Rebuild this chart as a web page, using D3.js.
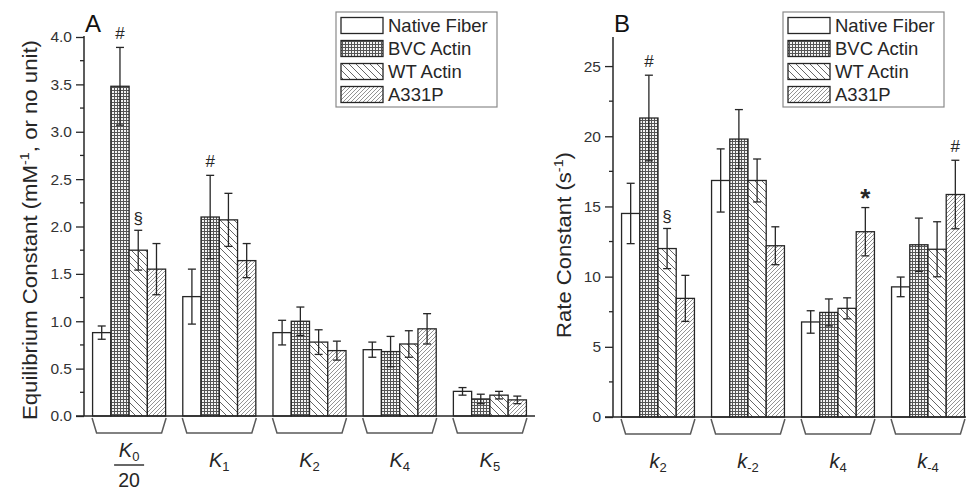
<!DOCTYPE html>
<html>
<head>
<meta charset="utf-8">
<script src="https://cdn.jsdelivr.net/npm/d3@7"></script>
<style>
body{margin:0;background:#fff;}
svg{display:block;font-family:"Liberation Sans",Arial,sans-serif;}
</style>
</head>
<body>
<script>
(function(){
//series and categories
var seriesNames = ["Native Fiber","BVC Actin","WT Actin","A331P"];
var patternIds = ["pNative","pBVC","pWT","pA331P"];

//panel A: equilibrium constants
var catA = ["K_0/20","K_1","K_2","K_4","K_5"];
var nativeA = [0.88, 1.26, 0.88, 0.70, 0.26];
var bvcA    = [3.48, 2.10, 1.00, 0.68, 0.18];
var wtA     = [1.75, 2.07, 0.78, 0.76, 0.22];
var a331pA  = [1.55, 1.64, 0.69, 0.92, 0.17];
var nativeErrA = [0.07, 0.29, 0.13, 0.08, 0.04];
var bvcErrA    = [0.41, 0.44, 0.15, 0.16, 0.05];
var wtErrA     = [0.21, 0.28, 0.13, 0.14, 0.04];
var a331pErrA  = [0.27, 0.18, 0.10, 0.16, 0.04];
var ticksA = [0, 0.5, 1.0, 1.5, 2.0, 2.5, 3.0, 3.5, 4.0];
var marksA = [[0,1,"#"],[0,2,"§"],[1,1,"#"]]; //group, series, symbol

//panel B: rate constants
var catB = ["k_2","k_-2","k_4","k_-4"];
var nativeB = [14.5, 16.85, 6.77, 9.27];
var bvcB    = [21.3, 19.8, 7.45, 12.27];
var wtB     = [12.0, 16.85, 7.74, 11.95];
var a331pB  = [8.45, 12.2, 13.2, 15.85];
var nativeErrB = [2.15, 2.25, 0.80, 0.70];
var bvcErrB    = [3.05, 2.10, 0.96, 1.90];
var wtErrB     = [1.43, 1.53, 0.75, 1.96];
var a331pErrB  = [1.64, 1.35, 1.72, 2.44];
var ticksB = [0, 5, 10, 15, 20, 25];
var marksB = [[0,1,"#"],[0,2,"§"],[2,3,"*"],[3,3,"#"]];

var width = 966, height = 494;
var ink = "#262626";

var svg = d3.select("body").append("svg")
    .attr("width", width)
    .attr("height", height);

//fill patterns
var defs = svg.append("defs");
defs.append("pattern").attr("id","pNative")
    .attr("patternUnits","userSpaceOnUse").attr("width",4).attr("height",4)
    .append("rect").attr("width",4).attr("height",4).attr("fill","#fff");

var pb = defs.append("pattern").attr("id","pBVC")
    .attr("patternUnits","userSpaceOnUse").attr("width",3).attr("height",3);
pb.append("rect").attr("width",3).attr("height",3).attr("fill","#f4f4f4");
pb.append("rect").attr("width",3).attr("height",1).attr("fill","#555");
pb.append("rect").attr("width",1).attr("height",3).attr("fill","#555");

var pw = defs.append("pattern").attr("id","pWT")
    .attr("patternUnits","userSpaceOnUse").attr("width",7).attr("height",7);
pw.append("rect").attr("width",7).attr("height",7).attr("fill","#fff");
pw.append("path").attr("d","M-1,-1L8,8M-1,6L1,8M6,-1L8,1")
    .attr("stroke","#555").attr("stroke-width",0.9);

var pa = defs.append("pattern").attr("id","pA331P")
    .attr("patternUnits","userSpaceOnUse").attr("width",4).attr("height",4);
pa.append("rect").attr("width",4).attr("height",4).attr("fill","#fff");
pa.append("path").attr("d","M-1,5L5,-1M-1,1L1,-1M3,5L5,3")
    .attr("stroke","#777").attr("stroke-width",0.8);

function buildRows(vals, errs){
    var rows = [];
    vals[0].forEach(function(v, g){
        vals.forEach(function(arr, s){
            rows.push({g:g, s:s, v:arr[g], e:errs[s][g]});
        });
    });
    return rows;
}

function drawPanel(opt){
    var x = d3.scaleBand().domain(d3.range(opt.cats.length))
        .range([opt.x0, opt.x1]);
    var xs = d3.scaleBand().domain(d3.range(seriesNames.length))
        .range([0, x.bandwidth()]).paddingOuter(0.47);
    var y = d3.scaleLinear().domain(opt.domain).range([opt.yBottom, opt.yTop]);
    var g = svg.append("g");
    var rows = buildRows(opt.vals, opt.errs);

    //bars
    g.selectAll(".bar").data(rows).enter().append("rect")
        .attr("x", function(d){ return x(d.g) + xs(d.s); })
        .attr("y", function(d){ return y(d.v); })
        .attr("width", xs.bandwidth())
        .attr("height", function(d){ return y(0) - y(d.v); })
        .attr("fill", function(d){ return "url(#" + patternIds[d.s] + ")"; })
        .attr("stroke", ink).attr("stroke-width", 1.3);

    //error bars
    var eb = g.selectAll(".err").data(rows).enter().append("g")
        .attr("transform", function(d){ return "translate(" + (x(d.g) + xs(d.s) + xs.bandwidth()/2) + ",0)"; })
        .attr("stroke", ink).attr("stroke-width", 1.3);
    eb.append("line").attr("y1", function(d){ return y(d.v + d.e); })
        .attr("y2", function(d){ return y(d.v - d.e); });
    eb.append("line").attr("x1",-4).attr("x2",4)
        .attr("y1", function(d){ return y(d.v + d.e); })
        .attr("y2", function(d){ return y(d.v + d.e); });
    eb.append("line").attr("x1",-4).attr("x2",4)
        .attr("y1", function(d){ return y(d.v - d.e); })
        .attr("y2", function(d){ return y(d.v - d.e); });

    //significance marks
    g.selectAll(".mark").data(opt.marks).enter().append("text")
        .attr("x", function(d){ return x(d[0]) + xs(d[1]) + xs.bandwidth()/2; })
        .attr("y", function(d){
            var r = rows.filter(function(q){ return q.g == d[0] && q.s == d[1]; })[0];
            return y(r.v + r.e) - (d[2] == "*" ? 1 : (d[2] == "§" ? 6 : 8));
        })
        .attr("text-anchor","middle")
        .attr("font-size", function(d){ return d[2] == "*" ? 26 : 17; })
        .attr("font-weight", function(d){ return d[2] == "*" ? "bold" : "normal"; })
        .attr("fill", ink)
        .text(function(d){ return d[2]; });

    //y axis
    var yAxis = d3.axisLeft(y).tickValues(opt.ticks).tickSize(8).tickPadding(4)
        .tickFormat(opt.fmt);
    var ya = g.append("g").attr("transform","translate(" + opt.x0 + ",0)").call(yAxis);
    ya.select(".domain").remove();
    var minor = [];
    for (var i = 0; i < opt.ticks.length - 1; i++) minor.push((opt.ticks[i] + opt.ticks[i+1]) / 2);
    g.selectAll(".minor").data(minor).enter().append("line")
        .attr("x1", opt.x0 - 4).attr("x2", opt.x0)
        .attr("y1", function(d){ return y(d); }).attr("y2", function(d){ return y(d); })
        .attr("stroke", ink).attr("stroke-width", 1.3);
    ya.selectAll("line").attr("stroke", ink).attr("stroke-width", 1.3);
    ya.selectAll("text").attr("font-size", 15.5).attr("fill", "#333")
        .attr("font-family","Liberation Sans, Arial, sans-serif");
    g.append("line").attr("x1", opt.x0).attr("x2", opt.x0)
        .attr("y1", opt.yTop - 1).attr("y2", opt.yBottom)
        .attr("stroke", ink).attr("stroke-width", 1.5);
    g.append("line").attr("x1", opt.x0 - 8).attr("x2", opt.x1)
        .attr("y1", opt.yBottom).attr("y2", opt.yBottom)
        .attr("stroke", ink).attr("stroke-width", 1.5);

    //group brackets
    g.selectAll(".brk").data(opt.cats).enter().append("path")
        .attr("d", function(d, i){
            var l = x(i) + xs(0) - 0.5, r = x(i) + xs(3) + xs.bandwidth() + 0.5;
            var t = opt.yBottom + 2, b = opt.yBottom + 17;
            return "M" + l + "," + t + "L" + (l + 4.5) + "," + b + "L" + (r - 4.5) + "," + b + "L" + r + "," + t;
        })
        .attr("fill","none").attr("stroke","#5a5a5a").attr("stroke-width",1.5);

    //category labels
    opt.cats.forEach(function(c, i){
        var cx = x(i) + x.bandwidth()/2;
        var parts = c.split("/");
        var sym = parts[0].split("_");
        var base = parts.length > 1 ? opt.yBottom + 41 : opt.yBottom + 51;
        var t = g.append("text").attr("x", cx).attr("y", base)
            .attr("text-anchor","middle").attr("fill", ink);
        t.append("tspan").attr("font-style","italic").attr("font-size",20).text(sym[0]);
        t.append("tspan").attr("font-size",13).attr("dy",4).text(sym[1]);
        if (parts.length > 1){
            g.append("line").attr("x1", cx - 15).attr("x2", cx + 15)
                .attr("y1", base + 8).attr("y2", base + 8)
                .attr("stroke", ink).attr("stroke-width", 1.4);
            g.append("text").attr("x", cx).attr("y", base + 30)
                .attr("text-anchor","middle").attr("font-size",19.5).attr("fill", ink)
                .text(parts[1]);
        }
    });

    //panel letter
    g.append("text").attr("x", opt.x0 + 1).attr("y", 32)
        .attr("font-size", 24).attr("fill","#111").text(opt.letter);

    //y axis title
    var yt = g.append("text")
        .attr("transform","translate(" + opt.titleX + "," + opt.titleY + ") rotate(-90)")
        .attr("text-anchor","middle").attr("font-size",20).attr("fill", ink)
        .attr("textLength", opt.titleLen).attr("lengthAdjust","spacingAndGlyphs");
    yt.append("tspan").text(opt.title[0]);
    yt.append("tspan").attr("font-size",13).attr("dy",-8).text(opt.title[1]);
    yt.append("tspan").attr("dy",8).text(opt.title[2]);

    //legend
    var lg = g.append("g").attr("transform","translate(" + opt.legX + ",12)");
    lg.append("rect").attr("x",0).attr("y",0).attr("width",161).attr("height",95)
        .attr("fill","#fff").attr("stroke","#8a8a8a").attr("stroke-width",1.2);
    var li = lg.selectAll(".li").data(seriesNames).enter().append("g")
        .attr("transform", function(d, i){ return "translate(0," + (i * 23) + ")"; });
    li.append("rect").attr("x",5).attr("y",5.5).attr("width",42).attr("height",16)
        .attr("fill", function(d, i){ return "url(#" + patternIds[i] + ")"; })
        .attr("stroke", ink).attr("stroke-width",1.3);
    li.append("text").attr("x",52).attr("y",20).attr("font-size",18.5).attr("fill", ink)
        .text(function(d){ return d; });
}

drawPanel({
    cats: catA, vals: [nativeA, bvcA, wtA, a331pA],
    errs: [nativeErrA, bvcErrA, wtErrA, a331pErrA],
    x0: 84, x1: 535, yTop: 37, yBottom: 416, domain: [0, 4],
    ticks: ticksA, fmt: d3.format(".1f"), marks: marksA, letter: "A",
    title: ["Equilibrium Constant (mM", "-1", ", or no unit)"],
    titleX: 37, titleY: 230, titleLen: 380, legX: 336
});

drawPanel({
    cats: catB, vals: [nativeB, bvcB, wtB, a331pB],
    errs: [nativeErrB, bvcErrB, wtErrB, a331pErrB],
    x0: 613, x1: 973, yTop: 38, yBottom: 417, domain: [0, 27],
    ticks: ticksB, fmt: d3.format("d"), marks: marksB, letter: "B",
    title: ["Rate Constant (s", "-1", ")"],
    titleX: 571, titleY: 245, titleLen: 186, legX: 783
});
})();
</script>
</body>
</html>
